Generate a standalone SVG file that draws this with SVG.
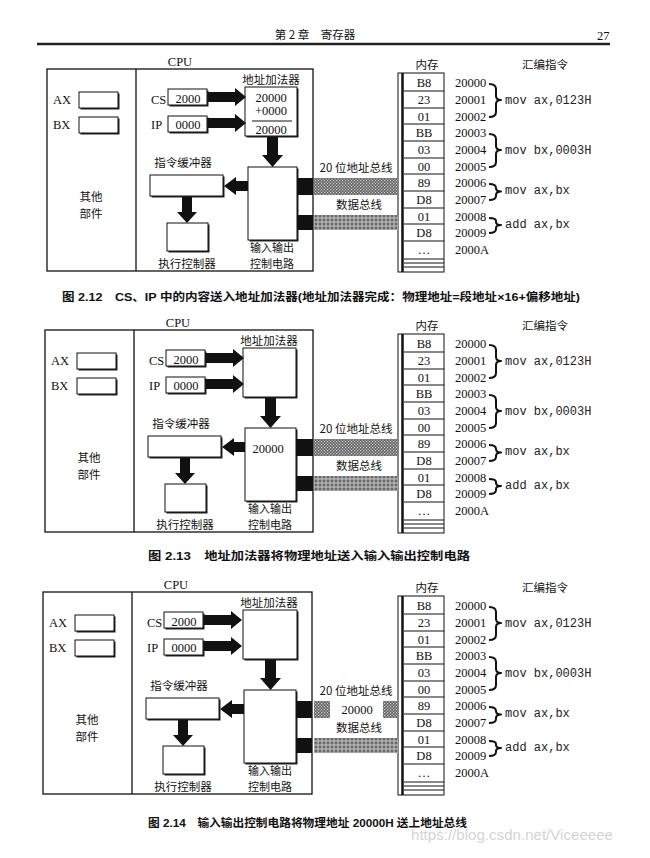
<svg xmlns="http://www.w3.org/2000/svg" width="650" height="858" viewBox="0 0 650 858">
<style>
.bg{fill:#fff}
.frame{fill:none;stroke:#111;stroke-width:1.3}
.box{fill:#fff;stroke:#111;stroke-width:1}
.sh{fill:#222}
.ink{fill:#111}
.t{font-family:"Liberation Serif","Noto Sans CJK SC",serif;font-size:12.5px;fill:#111}
.cj{font-family:"Noto Sans CJK SC","Liberation Serif",serif;font-size:11.5px;fill:#111}
.sm{font-size:11px}
.mono{font-family:"Liberation Mono",monospace;font-size:12px;fill:#222}
.c{text-anchor:middle}
.cap{font-family:"Liberation Sans","Noto Sans CJK SC",sans-serif;font-size:11.5px;font-weight:bold;fill:#111}
.brace{fill:none;stroke:#111;stroke-width:2;stroke-linejoin:round}
.row{stroke:#111;stroke-width:1}
.busA{fill:url(#hatchA)}
.busB{fill:url(#hatchB)}
</style>
<defs>
<pattern id="hatchA" width="3" height="3" patternUnits="userSpaceOnUse"><rect width="3" height="3" fill="#5e5e5e"/><rect x="0" y="0" width="1.2" height="1.2" fill="#d8d8d8"/><rect x="1.5" y="1.5" width="1.2" height="1.2" fill="#d8d8d8"/></pattern>
<pattern id="hatchB" width="4" height="4" patternUnits="userSpaceOnUse"><rect width="4" height="4" fill="#6a6a6a"/><path d="M0,2H4M2,0V4" stroke="#d0d0d0" stroke-width="0.9"/></pattern>
</defs>
<rect class="bg" width="650" height="858"/>

<g id="page-header">
<text class="cj c" x="315" y="39" font-size="12">第 2 章　寄存器</text>
<text class="t" x="597" y="40" font-size="13">27</text>
<line x1="37" y1="44" x2="610" y2="44" stroke="#222" stroke-width="2.5"/>
</g>

<!-- ================= FIG 2.12 ================= -->
<g id="fig2-12">
<g id="f1-cpu"><rect class="frame" x="47" y="69" width="266" height="202"/><line x1="136" y1="69" x2="136" y2="271" stroke="#111" stroke-width="1.3"/><text class="t c" x="180" y="66">CPU</text></g>
<g id="f1-ax"><text class="t" x="53" y="104">AX</text><rect class="sh" x="80.5" y="93.5" width="39" height="16"/><rect class="box" x="79" y="92" width="39" height="16"/></g>
<g id="f1-bx"><text class="t" x="53" y="129">BX</text><rect class="sh" x="80.5" y="118.5" width="39" height="16"/><rect class="box" x="79" y="117" width="39" height="16"/></g>
<g id="f1-other"><text class="cj c" x="91" y="201">其他</text><text class="cj c" x="91" y="218">部件</text></g>
<g id="f1-cs"><text class="t" x="151" y="104">CS</text><rect class="sh" x="169.5" y="90.5" width="39" height="16"/><rect class="box" x="168" y="89" width="39" height="16"/><text class="t c" x="188" y="103">2000</text></g>
<g id="f1-ip"><text class="t" x="151" y="129">IP</text><rect class="sh" x="169.5" y="117.5" width="39" height="16"/><rect class="box" x="168" y="116" width="39" height="16"/><text class="t c" x="188" y="129">0000</text></g>
<g id="f1-adder"><text class="cj c" x="271" y="84">地址加法器</text><rect class="sh" x="246.5" y="88.5" width="52" height="49"/><rect class="box" x="245" y="87" width="52" height="49"/><text class="t c" x="271" y="101.5">20000</text><text class="t c" x="271" y="115">+0000</text><line x1="252" y1="121" x2="292" y2="121" stroke="#111"/><text class="t c" x="271" y="134">20000</text></g>
<g id="f1-buffer"><text class="cj c" x="183" y="167">指令缓冲器</text><rect class="sh" x="151.5" y="176.5" width="73" height="21"/><rect class="box" x="150" y="175" width="73" height="21"/></g>
<g id="f1-exec"><rect class="sh" x="168.5" y="224.5" width="41" height="28"/><rect class="box" x="167" y="223" width="41" height="28"/><text class="cj c" x="187" y="268">执行控制器</text></g>
<g id="f1-io"><rect class="sh" x="249.5" y="168.5" width="49" height="73"/><rect class="box" x="248" y="167" width="49" height="73"/><text class="cj c sm" x="272" y="252">输入输出</text><text class="cj c sm" x="272" y="268">控制电路</text><rect class="ink" x="297" y="178" width="16" height="17"/><rect class="ink" x="297" y="215" width="16" height="15"/></g>
<g id="f1-memory"><text class="cj c" x="427" y="69">内存</text><rect class="box" x="398" y="73" width="46" height="199"/><line x1="402.5" y1="73" x2="402.5" y2="272" stroke="#111" stroke-width="2.5"/>
<path class="row" d="M404,91H444M404,108H444M404,124H444M404,141H444M404,158H444M404,174H444M404,191H444M404,208H444M404,224H444M404,241H444M404,259H444M404,263H444M404,267H444"/>
<g class="t c"><text x="424" y="87">B8</text><text x="424" y="104">23</text><text x="424" y="120.5">01</text><text x="424" y="137">BB</text><text x="424" y="154">03</text><text x="424" y="170.5">00</text><text x="424" y="187">89</text><text x="424" y="204">D8</text><text x="424" y="220.5">01</text><text x="424" y="237">D8</text><text x="424" y="254">…</text></g>
<g class="t"><text x="455" y="87">20000</text><text x="455" y="104">20001</text><text x="455" y="120.5">20002</text><text x="455" y="137">20003</text><text x="455" y="154">20004</text><text x="455" y="170.5">20005</text><text x="455" y="187">20006</text><text x="455" y="204">20007</text><text x="455" y="220.5">20008</text><text x="455" y="237">20009</text><text x="455" y="253.5">2000A</text></g></g>
<g id="f1-asm"><text class="cj c" x="545" y="69">汇编指令</text>
<path class="brace" d="M489,84Q496,84 496,89V96Q496,100 501,100Q496,100 496,104V112Q496,117 489,117M489,134Q496,134 496,139V146Q496,150 501,150Q496,150 496,154V162Q496,167 489,167M489,184Q496,184 496,188V188Q496,191.5 501,191.5Q496,191.5 496,195V196Q496,200 489,200M489,218Q496,218 496,221V222Q496,225 501,225Q496,225 496,228V229Q496,233 489,233"/>
<text class="mono" x="505" y="104">mov ax,0123H</text><text class="mono" x="505" y="154">mov bx,0003H</text><text class="mono" x="505" y="194">mov ax,bx</text><text class="mono" x="505" y="228">add ax,bx</text></g>
<g id="f1-connectors">
<path class="ink" d="M208,92H235V88L246,97L235,106V102H208Z"/>
<path class="ink" d="M208,118H235V114L246,123L235,132V128H208Z"/>
<path class="ink" d="M267,137H278V155H283L272.5,167L262,155H267Z"/>
<path class="ink" d="M248,181H236V177L224,186L236,195V191H248Z"/>
<path class="ink" d="M182,197H192V212H197L187,223L177,212H182Z"/>
<rect class="busA" x="314" y="178" width="84" height="17"/>
<rect class="busB" x="314" y="215" width="84" height="15"/>
<text class="cj c" x="356" y="172">20 位地址总线</text>
<text class="cj c" x="359" y="209">数据总线</text>
</g>
</g>
<text class="cap" x="62" y="301" textLength="518" lengthAdjust="spacingAndGlyphs">图 2.12　CS、IP 中的内容送入地址加法器(地址加法器完成：物理地址=段地址×16+偏移地址)</text>

<!-- ================= FIG 2.13 ================= -->
<g id="fig2-13" transform="translate(0,261)">
<g id="f2-cpu"><rect class="frame" x="45" y="69" width="268" height="202"/><line x1="134" y1="69" x2="134" y2="271" stroke="#111" stroke-width="1.3"/><text class="t c" x="178" y="66">CPU</text></g>
<g transform="translate(-2,0)">
<g id="f2-ax"><text class="t" x="53" y="104">AX</text><rect class="sh" x="80.5" y="93.5" width="39" height="16"/><rect class="box" x="79" y="92" width="39" height="16"/></g>
<g id="f2-bx"><text class="t" x="53" y="129">BX</text><rect class="sh" x="80.5" y="118.5" width="39" height="16"/><rect class="box" x="79" y="117" width="39" height="16"/></g>
<g id="f2-other"><text class="cj c" x="91" y="201">其他</text><text class="cj c" x="91" y="218">部件</text></g>
<g id="f2-cs"><text class="t" x="151" y="104">CS</text><rect class="sh" x="169.5" y="90.5" width="39" height="16"/><rect class="box" x="168" y="89" width="39" height="16"/><text class="t c" x="188" y="103">2000</text></g>
<g id="f2-ip"><text class="t" x="151" y="129">IP</text><rect class="sh" x="169.5" y="117.5" width="39" height="16"/><rect class="box" x="168" y="116" width="39" height="16"/><text class="t c" x="188" y="129">0000</text></g>
<g id="f2-adder"><text class="cj c" x="271" y="84">地址加法器</text><rect class="sh" x="246.5" y="88.5" width="53" height="49"/><rect class="box" x="245" y="87" width="53" height="49"/></g>
<g id="f2-buffer"><text class="cj c" x="183" y="167">指令缓冲器</text><rect class="sh" x="151.5" y="176.5" width="73" height="21"/><rect class="box" x="150" y="175" width="73" height="21"/></g>
<g id="f2-exec"><rect class="sh" x="168.5" y="224.5" width="41" height="28"/><rect class="box" x="167" y="223" width="41" height="28"/><text class="cj c" x="187" y="268">执行控制器</text></g>
<g id="f2-io"><rect class="sh" x="248.5" y="168.5" width="51" height="73"/><rect class="box" x="247" y="167" width="51" height="73"/><text class="t c" x="270" y="191.5">20000</text><text class="cj c sm" x="272" y="252">输入输出</text><text class="cj c sm" x="272" y="268">控制电路</text></g>
<g id="f2-connectors-cpu">
<path class="ink" d="M208,92H235V88L246,97L235,106V102H208Z"/>
<path class="ink" d="M208,118H235V114L246,123L235,132V128H208Z"/>
<path class="ink" d="M267,137H278V155H283L272.5,167L262,155H267Z"/>
<path class="ink" d="M247,181H236V177L224,186L236,195V191H247Z"/>
<path class="ink" d="M182,197H192V212H197L187,223L177,212H182Z"/>
</g>
</g>
<g id="f2-stubs"><rect class="ink" x="296" y="178" width="17" height="17"/><rect class="ink" x="296" y="215" width="17" height="15"/></g>
<g id="f2-memory"><text class="cj c" x="427" y="69">内存</text><rect class="box" x="398" y="73" width="46" height="199"/><line x1="402.5" y1="73" x2="402.5" y2="272" stroke="#111" stroke-width="2.5"/>
<path class="row" d="M404,91H444M404,108H444M404,124H444M404,141H444M404,158H444M404,174H444M404,191H444M404,208H444M404,224H444M404,241H444M404,259H444M404,263H444M404,267H444"/>
<g class="t c"><text x="424" y="87">B8</text><text x="424" y="104">23</text><text x="424" y="120.5">01</text><text x="424" y="137">BB</text><text x="424" y="154">03</text><text x="424" y="170.5">00</text><text x="424" y="187">89</text><text x="424" y="204">D8</text><text x="424" y="220.5">01</text><text x="424" y="237">D8</text><text x="424" y="254">…</text></g>
<g class="t"><text x="455" y="87">20000</text><text x="455" y="104">20001</text><text x="455" y="120.5">20002</text><text x="455" y="137">20003</text><text x="455" y="154">20004</text><text x="455" y="170.5">20005</text><text x="455" y="187">20006</text><text x="455" y="204">20007</text><text x="455" y="220.5">20008</text><text x="455" y="237">20009</text><text x="455" y="253.5">2000A</text></g></g>
<g id="f2-asm"><text class="cj c" x="545" y="69">汇编指令</text>
<path class="brace" d="M489,84Q496,84 496,89V96Q496,100 501,100Q496,100 496,104V112Q496,117 489,117M489,134Q496,134 496,139V146Q496,150 501,150Q496,150 496,154V162Q496,167 489,167M489,184Q496,184 496,188V188Q496,191.5 501,191.5Q496,191.5 496,195V196Q496,200 489,200M489,218Q496,218 496,221V222Q496,225 501,225Q496,225 496,228V229Q496,233 489,233"/>
<text class="mono" x="505" y="104">mov ax,0123H</text><text class="mono" x="505" y="154">mov bx,0003H</text><text class="mono" x="505" y="194">mov ax,bx</text><text class="mono" x="505" y="228">add ax,bx</text></g>
<g id="f2-connectors">
<rect class="busA" x="314" y="178" width="84" height="17"/>
<rect class="busB" x="314" y="215" width="84" height="15"/>
<text class="cj c" x="356" y="172">20 位地址总线</text>
<text class="cj c" x="359" y="209">数据总线</text>
</g>
</g>
<text class="cap" x="148" y="560" textLength="322" lengthAdjust="spacingAndGlyphs">图 2.13　地址加法器将物理地址送入输入输出控制电路</text>

<!-- ================= FIG 2.14 ================= -->
<g id="fig2-14" transform="translate(0,523)">
<g id="f3-cpu"><rect class="frame" x="43" y="69" width="269" height="202"/><line x1="132" y1="69" x2="132" y2="271" stroke="#111" stroke-width="1.3"/><text class="t c" x="176" y="66">CPU</text></g>
<g transform="translate(-4,0)">
<g id="f3-ax"><text class="t" x="53" y="104">AX</text><rect class="sh" x="80.5" y="93.5" width="39" height="16"/><rect class="box" x="79" y="92" width="39" height="16"/></g>
<g id="f3-bx"><text class="t" x="53" y="129">BX</text><rect class="sh" x="80.5" y="118.5" width="39" height="16"/><rect class="box" x="79" y="117" width="39" height="16"/></g>
<g id="f3-other"><text class="cj c" x="91" y="201">其他</text><text class="cj c" x="91" y="218">部件</text></g>
<g id="f3-cs"><text class="t" x="151" y="104">CS</text><rect class="sh" x="169.5" y="90.5" width="39" height="16"/><rect class="box" x="168" y="89" width="39" height="16"/><text class="t c" x="188" y="103">2000</text></g>
<g id="f3-ip"><text class="t" x="151" y="129">IP</text><rect class="sh" x="169.5" y="117.5" width="39" height="16"/><rect class="box" x="168" y="116" width="39" height="16"/><text class="t c" x="188" y="129">0000</text></g>
<g id="f3-adder"><text class="cj c" x="273" y="84">地址加法器</text><rect class="sh" x="248.5" y="88.5" width="54" height="49"/><rect class="box" x="247" y="87" width="54" height="49"/></g>
<g id="f3-buffer"><text class="cj c" x="183" y="167">指令缓冲器</text><rect class="sh" x="151.5" y="176.5" width="73" height="21"/><rect class="box" x="150" y="175" width="73" height="21"/></g>
<g id="f3-exec"><rect class="sh" x="168.5" y="224.5" width="41" height="28"/><rect class="box" x="167" y="223" width="41" height="28"/><text class="cj c" x="187" y="268">执行控制器</text></g>
<g id="f3-io"><rect class="sh" x="249.5" y="168.5" width="52" height="73"/><rect class="box" x="248" y="167" width="52" height="73"/><text class="cj c sm" x="274" y="252">输入输出</text><text class="cj c sm" x="274" y="268">控制电路</text></g>
<g id="f3-connectors-cpu">
<path class="ink" d="M208,92H235V88L246,97L235,106V102H208Z"/>
<path class="ink" d="M208,118H235V114L246,123L235,132V128H208Z"/>
<path class="ink" d="M269,137H280V155H285L274.5,167L264,155H269Z"/>
<path class="ink" d="M248,181H236V177L224,186L236,195V191H248Z"/>
<path class="ink" d="M182,197H192V212H197L187,223L177,212H182Z"/>
</g>
</g>
<g id="f3-stubs"><rect class="ink" x="296" y="178" width="16" height="17"/><rect class="ink" x="296" y="215" width="16" height="15"/></g>
<g id="f3-memory"><text class="cj c" x="427" y="69">内存</text><rect class="box" x="398" y="73" width="46" height="199"/><line x1="402.5" y1="73" x2="402.5" y2="272" stroke="#111" stroke-width="2.5"/>
<path class="row" d="M404,91H444M404,108H444M404,124H444M404,141H444M404,158H444M404,174H444M404,191H444M404,208H444M404,224H444M404,241H444M404,259H444M404,263H444M404,267H444"/>
<g class="t c"><text x="424" y="87">B8</text><text x="424" y="104">23</text><text x="424" y="120.5">01</text><text x="424" y="137">BB</text><text x="424" y="154">03</text><text x="424" y="170.5">00</text><text x="424" y="187">89</text><text x="424" y="204">D8</text><text x="424" y="220.5">01</text><text x="424" y="237">D8</text><text x="424" y="254">…</text></g>
<g class="t"><text x="455" y="87">20000</text><text x="455" y="104">20001</text><text x="455" y="120.5">20002</text><text x="455" y="137">20003</text><text x="455" y="154">20004</text><text x="455" y="170.5">20005</text><text x="455" y="187">20006</text><text x="455" y="204">20007</text><text x="455" y="220.5">20008</text><text x="455" y="237">20009</text><text x="455" y="253.5">2000A</text></g></g>
<g id="f3-asm"><text class="cj c" x="545" y="69">汇编指令</text>
<path class="brace" d="M489,84Q496,84 496,89V96Q496,100 501,100Q496,100 496,104V112Q496,117 489,117M489,134Q496,134 496,139V146Q496,150 501,150Q496,150 496,154V162Q496,167 489,167M489,184Q496,184 496,188V188Q496,191.5 501,191.5Q496,191.5 496,195V196Q496,200 489,200M489,218Q496,218 496,221V222Q496,225 501,225Q496,225 496,228V229Q496,233 489,233"/>
<text class="mono" x="505" y="104">mov ax,0123H</text><text class="mono" x="505" y="154">mov bx,0003H</text><text class="mono" x="505" y="194">mov ax,bx</text><text class="mono" x="505" y="228">add ax,bx</text></g>
<g id="f3-connectors">
<rect class="busA" x="314" y="178" width="16" height="17"/>
<rect class="busA" x="383" y="178" width="15" height="17"/>
<text class="t c" x="357" y="191">20000</text>
<rect class="busB" x="314" y="215" width="84" height="15"/>
<text class="cj c" x="356" y="172">20 位地址总线</text>
<text class="cj c" x="359" y="209">数据总线</text>
</g>
</g>
<text class="cap" x="148" y="827" textLength="319" lengthAdjust="spacingAndGlyphs">图 2.14　输入输出控制电路将物理地址 20000H 送上地址总线</text>
<text x="411" y="840" font-family="Liberation Sans, sans-serif" font-size="14" fill="#d4d4d4" textLength="202" lengthAdjust="spacingAndGlyphs">https://blog.csdn.net/Viceeeee</text>
</svg>
